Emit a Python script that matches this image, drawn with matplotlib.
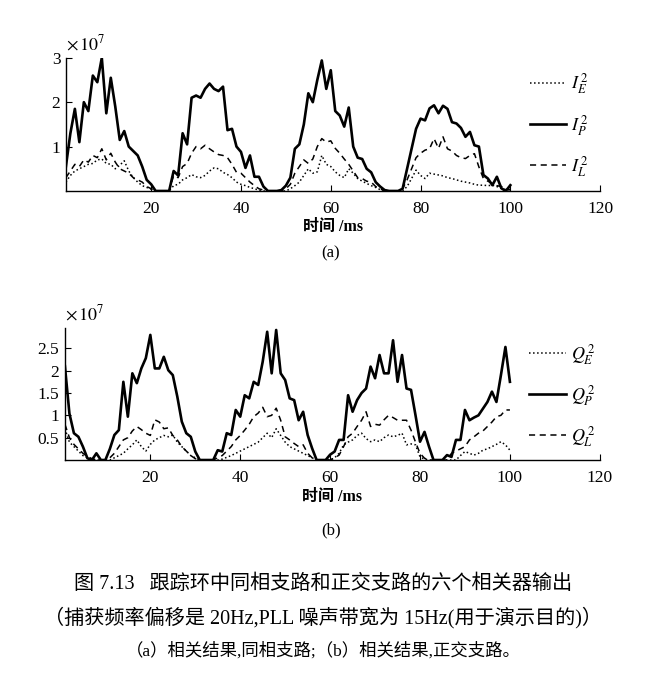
#!/usr/bin/env python3
"""Six correlator outputs of the tracking loop (in-phase and quadrature arms)."""

import numpy as np
import matplotlib
matplotlib.use("Agg")
import matplotlib.pyplot as plt

plt.rcParams["font.family"] = ["Liberation Serif", "Noto Sans CJK SC"]
plt.rcParams["mathtext.fontset"] = "stix"

# time axis, ms
t = np.arange(1, 101)

# (a) in-phase arm, x 1e7
i_p = [0.55, 1.3, 1.85, 1.1, 2.0, 1.8, 2.6, 2.45, 3.0, 1.75,
       2.55, 1.9, 1.15, 1.35, 1.0, 0.9, 0.8, 0.55, 0.25, 0.15,
       0.0, 0.0, 0.0, 0.0, 0.45, 0.35, 1.3, 1.05, 2.1, 2.15,
       2.1, 2.3, 2.42, 2.3, 2.25, 2.35, 1.37, 1.4, 1.0, 0.88,
       0.52, 0.8, 0.32, 0.32, 0.1, 0.0, 0.0, 0.0, 0.02, 0.12,
       0.3, 0.95, 1.05, 1.5, 2.2, 2.0, 2.5, 2.94, 2.3, 2.72,
       1.8, 1.7, 1.45, 1.88, 1.0, 0.75, 0.72, 0.5, 0.42, 0.2,
       0.1, 0.02, 0.0, 0.0, 0.0, 0.05, 0.5, 0.95, 1.4, 1.63,
       1.59, 1.86, 1.93, 1.75, 1.92, 1.85, 1.55, 1.52, 1.42, 1.22,
       1.33, 1.03, 1.0, 0.36, 0.28, 0.13, 0.32, 0.06, 0.0, 0.13]
i_l = [0.3, 0.45, 0.6, 0.55, 0.7, 0.65, 0.8, 0.75, 0.95, 0.7,
       0.85, 0.65, 0.5, 0.45, 0.4, 0.3, 0.25, 0.2, 0.1, 0.05,
       0.0, 0.0, 0.0, 0.0, 0.35, 0.3, 0.55, 0.62, 0.85, 1.0,
       0.95, 1.03, 0.95, 0.88, 0.82, 0.8, 0.75, 0.6, 0.42, 0.4,
       0.3, 0.2, 0.12, 0.05, 0.02, 0.0, 0.0, 0.0, 0.0, 0.05,
       0.15, 0.4, 0.55, 0.7, 0.62, 0.72, 1.0, 1.18, 1.1, 1.13,
       0.96, 0.85, 0.72, 0.6, 0.45, 0.3, 0.28, 0.22, 0.2, 0.1,
       0.05, 0.0, 0.0, 0.0, 0.0, 0.05, 0.25, 0.5, 0.75, 0.85,
       0.92, 0.95, 1.18, 0.96, 1.22, 0.95, 0.9, 0.8, 0.75, 0.73,
       0.8, 0.84, 0.54, 0.28, 0.22, 0.17, 0.12, 0.1, 0.05, 0.03]
i_e = [0.2, 0.35, 0.45, 0.5, 0.55, 0.6, 0.62, 0.7, 0.72, 0.62,
       0.6, 0.5, 0.58, 0.68, 0.45, 0.3, 0.2, 0.12, 0.08, 0.04,
       0.0, 0.0, 0.0, 0.0, 0.12, 0.15, 0.25, 0.3, 0.37, 0.32,
       0.3, 0.35, 0.45, 0.52, 0.5, 0.42, 0.37, 0.3, 0.2, 0.15,
       0.12, 0.08, 0.05, 0.02, 0.0, 0.0, 0.0, 0.0, 0.0, 0.0,
       0.05, 0.12, 0.2, 0.35, 0.5, 0.4, 0.43, 0.8, 0.6, 0.55,
       0.43, 0.35, 0.3, 0.5, 0.4, 0.28, 0.22, 0.17, 0.12, 0.08,
       0.03, 0.0, 0.0, 0.0, 0.0, 0.0, 0.1, 0.28, 0.47, 0.35,
       0.28, 0.4, 0.38, 0.36, 0.34, 0.3, 0.28, 0.25, 0.22, 0.2,
       0.18, 0.15, 0.13, 0.13, 0.12, 0.13, 0.1, 0.06, 0.03, 0.02]

# (b) quadrature arm, x 1e7
q_p = [2.1, 1.04, 0.6, 0.52, 0.3, 0.04, 0.0, 0.15, 0.0, 0.0,
       0.25, 0.56, 0.67, 1.75, 0.97, 1.94, 1.72, 2.05, 2.28, 2.8,
       2.05, 2.05, 2.31, 2.01, 1.9, 1.42, 0.86, 0.6, 0.52, 0.19,
       0.0, 0.0, 0.0, 0.0, 0.22, 0.19, 0.6, 0.56, 1.12, 0.97,
       1.45, 1.38, 1.75, 1.68, 2.2, 2.87, 1.94, 2.91, 1.94, 1.79,
       1.38, 1.34, 0.89, 1.08, 0.56, 0.26, 0.0, 0.0, 0.0, 0.12,
       0.19, 0.45, 0.45, 1.45, 1.08, 1.34, 1.5, 1.6, 2.09, 1.83,
       2.35, 1.94, 1.94, 2.68, 1.75, 2.35, 1.6, 1.57, 1.0, 0.41,
       0.63, 0.3, 0.0, 0.0, 0.0, 0.11, 0.07, 0.45, 0.45, 1.12,
       0.89, 0.95, 1.0, 1.15, 1.3, 1.53, 1.3, 1.9, 2.53, 1.75]
q_l = [0.8, 0.5, 0.35, 0.25, 0.15, 0.08, 0.03, 0.0, 0.0, 0.0,
       0.05, 0.15, 0.3, 0.45, 0.5, 0.65, 0.75, 0.68, 0.6, 0.55,
       0.9, 0.85, 0.7, 0.72, 0.55, 0.45, 0.3, 0.2, 0.1, 0.03,
       0.0, 0.0, 0.0, 0.0, 0.05, 0.1, 0.2, 0.3, 0.45, 0.55,
       0.67, 0.8, 0.97, 1.05, 1.18, 0.97, 1.0, 1.16, 0.89, 0.52,
       0.45, 0.37, 0.3, 0.34, 0.15, 0.05, 0.0, 0.0, 0.0, 0.0,
       0.05, 0.11, 0.3, 0.52, 0.6, 0.75, 0.89, 1.08, 0.75, 0.8,
       0.78, 0.9, 1.0, 0.95, 0.89, 0.89, 0.89, 0.67, 0.4, 0.15,
       0.04, 0.0, 0.0, 0.0, 0.0, 0.0, 0.15, 0.2, 0.25, 0.3,
       0.45, 0.52, 0.6, 0.65, 0.75, 0.85, 0.97, 1.0, 1.12, 1.12]
q_e = [0.7, 0.4, 0.3, 0.2, 0.1, 0.05, 0.02, 0.0, 0.0, 0.0,
       0.0, 0.05, 0.1, 0.15, 0.25, 0.34, 0.45, 0.3, 0.2, 0.35,
       0.45, 0.5, 0.55, 0.52, 0.56, 0.4, 0.3, 0.2, 0.1, 0.05,
       0.0, 0.0, 0.0, 0.0, 0.0, 0.02, 0.06, 0.1, 0.15, 0.2,
       0.25, 0.3, 0.35, 0.4, 0.5, 0.6, 0.5, 0.7, 0.55, 0.4,
       0.3, 0.25, 0.2, 0.15, 0.1, 0.05, 0.0, 0.0, 0.0, 0.0,
       0.05, 0.15, 0.34, 0.4, 0.45, 0.55, 0.6, 0.48, 0.41, 0.45,
       0.41, 0.5, 0.56, 0.52, 0.55, 0.6, 0.34, 0.36, 0.34, 0.07,
       0.02, 0.0, 0.0, 0.0, 0.0, 0.0, 0.0, 0.0, 0.1, 0.19,
       0.15, 0.11, 0.15, 0.22, 0.25, 0.3, 0.35, 0.41, 0.34, 0.22]

x_ticks = [20, 40, 60, 80, 100, 120]
a_yticks = [1, 2, 3]
b_yticks = [0.5, 1, 1.5, 2, 2.5]
b_ylabels = ["0.5", "1", "1.5", "2", "2.5"]

caption = [
    "图 7.13   跟踪环中同相支路和正交支路的六个相关器输出",
    "（捕获频率偏移是 20Hz,PLL 噪声带宽为 15Hz(用于演示目的)）",
    "（a）相关结果,同相支路;（b）相关结果,正交支路。",
]


def style_axes(ax, ymax, yticks, ylabels=None):
    ax.set_xlim(1, 120)
    ax.set_ylim(0, ymax)
    for side in ("top", "right"):
        ax.spines[side].set_visible(False)
    ax.spines["left"].set_linewidth(1.0)
    ax.spines["bottom"].set_linewidth(1.0)
    ax.set_xticks(x_ticks)
    ax.set_yticks(yticks)
    if ylabels is not None:
        ax.set_yticklabels(ylabels)
    ax.tick_params(direction="in", length=4, labelsize=12.5)
    ax.tick_params(axis="x", pad=7)
    ax.tick_params(axis="y", pad=4)
    ax.text(0.0, 1.03, r"$\times\,10^7$", transform=ax.transAxes,
            fontsize=13, ha="left", va="bottom")
    ax.set_xlabel("时间 /ms", fontsize=11.5, fontweight="bold", labelpad=2)


def draw(ax, e, p, l, names):
    ax.plot(t, e, ":", color="black", lw=1.1, label=names[0])
    ax.plot(t, p, "-", color="black", lw=1.9, label=names[1])
    ax.plot(t, l, "--", color="black", lw=1.1, dashes=(4, 3), label=names[2])
    ax.legend(frameon=False, loc="upper left", bbox_to_anchor=(0.855, 0.95),
              fontsize=13, handlelength=2.0, labelspacing=0.9,
              handletextpad=0.3, borderaxespad=0)


fig = plt.figure(figsize=(6.46, 6.76), dpi=100)

ax_a = fig.add_axes([0.102, 0.7175, 0.827, 0.197])
draw(ax_a, i_e, i_p, i_l, [r"$I_E^{\,2}$", r"$I_P^{\,2}$", r"$I_L^{\,2}$"])
style_axes(ax_a, 3, a_yticks)

ax_b = fig.add_axes([0.1005, 0.3195, 0.828, 0.195])
draw(ax_b, q_e, q_p, q_l, [r"$Q_E^{\,2}$", r"$Q_P^{\,2}$", r"$Q_L^{\,2}$"])
style_axes(ax_b, 2.95, b_yticks, b_ylabels)

fig.text(0.512, 1 - 253 / 676, "(a)", ha="center", va="center", fontsize=12)
fig.text(0.512, 1 - 530 / 676, "(b)", ha="center", va="center", fontsize=12)

fig.text(0.5, 1 - 584 / 676, caption[0], ha="center", va="center", fontsize=14.5)
fig.text(0.5, 1 - 618 / 676, caption[1], ha="center", va="center", fontsize=14.5)
fig.text(0.5, 1 - 651 / 676, caption[2], ha="center", va="center", fontsize=12.5)

fig.savefig("out.png", dpi=100)
